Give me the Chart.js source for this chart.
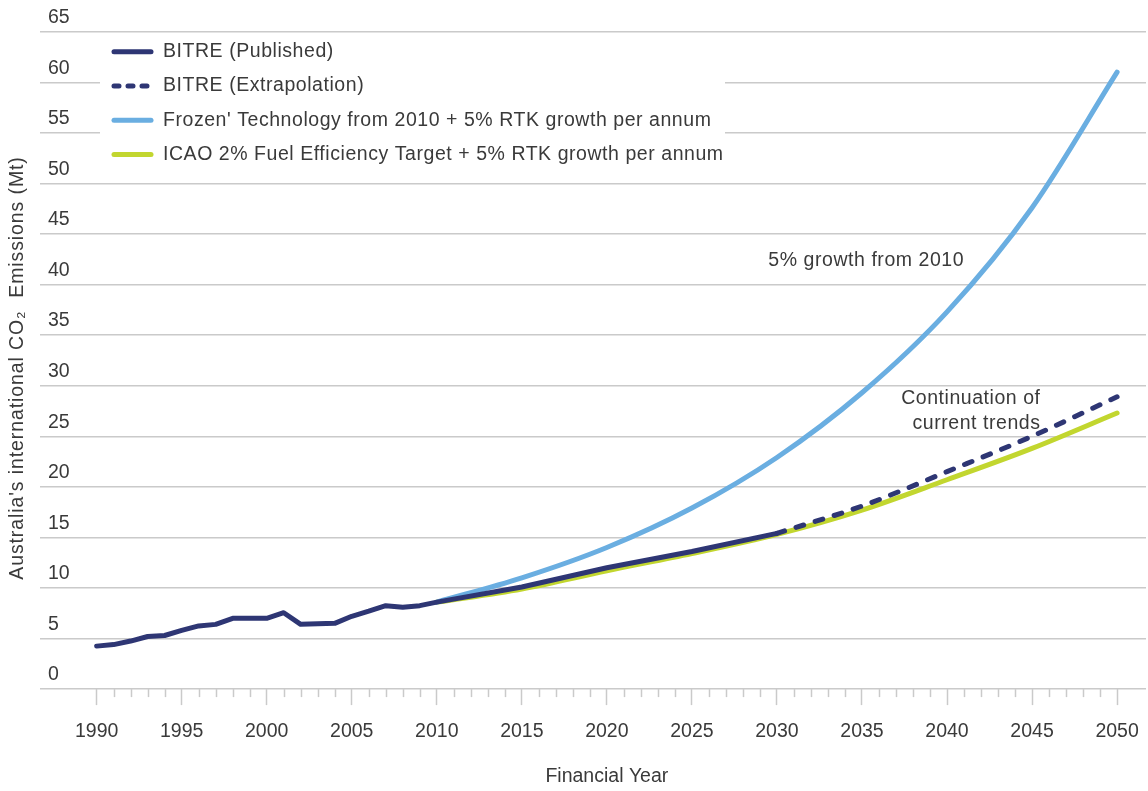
<!DOCTYPE html>
<html lang="en">
<head>
  <meta charset="UTF-8">
  <title>Australia's international CO2 emissions</title>
  <script src="https://cdn.jsdelivr.net/npm/chart.js"></script>
  <style>
    body {
      margin: 0;
      padding: 0;
      background: #fff;
    }

    #wrap {
      position: relative;
      width: 1148px;
      height: 791px;
    }
  </style>
</head>
<body>
  <div id="wrap">
    <canvas id="emissionsChart"></canvas>
  </div>

  <script>
    // Series (Mt CO2 by financial year)
    const publishedYears = [1990, 1991, 1992, 1993, 1994, 1995, 1996, 1997, 1998, 1999, 2000,
      2001, 2002, 2003, 2004, 2005, 2006, 2007, 2008, 2009, 2010, 2015, 2020, 2025, 2030];
    const publishedValues = [4.25, 4.4, 4.75, 5.2, 5.3, 5.8, 6.25, 6.4, 7.0, 7.0, 7.0,
      7.55, 6.4, 6.45, 6.5, 7.2, 7.7, 8.25, 8.1, 8.25, 8.6, 10.1, 12.0, 13.6, 15.4];

    const extrapYears = [2030, 2035, 2040, 2045, 2050];
    const extrapValues = [15.4, 18.1, 21.5, 25.0, 28.9];

    const projYears = [2010, 2015, 2020, 2025, 2030, 2035, 2040, 2045, 2050];
    const frozenValues = [8.6, 11.0, 14.0, 17.9, 22.9, 29.3, 37.3, 47.6, 61.0];
    const icaoValues = [8.6, 9.9, 11.7, 13.4, 15.3, 17.7, 20.7, 23.8, 27.3];

    const seriesLabels = [
      'BITRE (Published)',
      'BITRE (Extrapolation)',
      "Frozen' Technology from 2010 + 5% RTK growth per annum",
      'ICAO 2% Fuel Efficiency Target + 5% RTK growth per annum'
    ];

    const majorYears = [1990, 1995, 2000, 2005, 2010, 2015, 2020, 2025, 2030, 2035, 2040, 2045, 2050];
    const yTicks = [0, 5, 10, 15, 20, 25, 30, 35, 40, 45, 50, 55, 60, 65];

    const NAVY = '#2e3674';
    const SKY = '#6aaee1';
    const LIME = '#c2d62f';
    const GRID = '#cacaca';
    const TEXT = '#3a3a3a';
    const FONT = "'Liberation Sans', Arial, sans-serif";
    const FONT_SIZE = 19.5;

    const toPoints = (xs, ys) => xs.map((x, i) => ({ x: x, y: ys[i] }));

    // minor yearly ticks under the x axis
    const minorTicks = {
      id: 'minorTicks',
      afterDraw(chart) {
        const x = chart.scales.x;
        const ctx = chart.ctx;
        const top = chart.chartArea.bottom;
        ctx.save();
        ctx.strokeStyle = GRID;
        ctx.lineWidth = 1.5;
        for (let yr = majorYears[0]; yr <= majorYears[majorYears.length - 1]; yr++) {
          if (yr % 5 === 0) continue;
          const px = Math.round(x.getPixelForValue(yr)) + 0.5;
          ctx.beginPath();
          ctx.moveTo(px, top);
          ctx.lineTo(px, top + 8);
          ctx.stroke();
        }
        ctx.restore();
      }
    };

    // legend box sitting on top of the grid, the in-plot notes and axis titles
    const overlay = {
      id: 'overlay',
      afterDatasetsDraw(chart) {
        const ctx = chart.ctx;
        const x = chart.scales.x;
        const y = chart.scales.y;
        ctx.save();

        ctx.fillStyle = '#fff';
        ctx.fillRect(100, 40, 625, 130);

        ctx.font = FONT_SIZE + 'px ' + FONT;
        ctx.letterSpacing = '0.55px';
        ctx.textBaseline = 'middle';
        ctx.textAlign = 'left';
        chart.data.datasets.forEach((ds, i) => {
          const rowY = 51.7 + i * 34.3;
          ctx.strokeStyle = ds.borderColor;
          ctx.lineWidth = 5;
          ctx.lineCap = 'round';
          ctx.setLineDash(ds.borderDash && ds.borderDash.length ? [5, 9] : []);
          ctx.beginPath();
          ctx.moveTo(114, rowY);
          ctx.lineTo(151, rowY);
          ctx.stroke();
          ctx.setLineDash([]);
          ctx.fillStyle = TEXT;
          ctx.fillText(ds.label, 163, rowY);
        });

        ctx.fillStyle = TEXT;
        ctx.textAlign = 'center';
        ctx.fillText('5% growth from 2010', x.getPixelForValue(2035.25), y.getPixelForValue(42.4));
        ctx.textAlign = 'right';
        ctx.fillText('Continuation of', x.getPixelForValue(2045.5), y.getPixelForValue(28.7));
        ctx.fillText('current trends', x.getPixelForValue(2045.5), y.getPixelForValue(26.2));

        // y axis title
        ctx.save();
        ctx.translate(18, 368);
        ctx.rotate(-Math.PI / 2);
        ctx.textAlign = 'center';
        ctx.letterSpacing = '0.9px';
        ctx.fillText("Australia's international CO₂  Emissions (Mt)", 0, 0);
        ctx.restore();

        // x axis title, centred on the 1990-2050 span
        ctx.letterSpacing = '0px';
        ctx.textAlign = 'center';
        ctx.fillText('Financial Year', x.getPixelForValue(2020), 777);
        ctx.restore();
      }
    };

    const lineStyle = {
      pointRadius: 0,
      pointHoverRadius: 0,
      borderWidth: 5,
      borderCapStyle: 'round',
      borderJoinStyle: 'round',
      fill: false
    };

    new Chart(document.getElementById('emissionsChart'), {
      type: 'line',
      data: {
        datasets: [
          Object.assign({
            label: seriesLabels[0],
            data: toPoints(publishedYears, publishedValues),
            borderColor: NAVY,
            backgroundColor: NAVY,
            tension: 0
          }, lineStyle),
          Object.assign({
            label: seriesLabels[1],
            data: toPoints(extrapYears, extrapValues),
            borderColor: NAVY,
            backgroundColor: NAVY,
            borderDash: [8, 12],
            cubicInterpolationMode: 'monotone'
          }, lineStyle),
          Object.assign({
            label: seriesLabels[2],
            data: toPoints(projYears, frozenValues),
            borderColor: SKY,
            backgroundColor: SKY,
            cubicInterpolationMode: 'monotone'
          }, lineStyle),
          Object.assign({
            label: seriesLabels[3],
            data: toPoints(projYears, icaoValues),
            borderColor: LIME,
            backgroundColor: LIME,
            cubicInterpolationMode: 'monotone'
          }, lineStyle)
        ]
      },
      options: {
        responsive: true,
        maintainAspectRatio: false,
        animation: false,
        events: [],
        layout: {
          padding: { top: 31.7, right: 2, bottom: 33.5, left: 0 }
        },
        plugins: {
          legend: { display: false },
          tooltip: { enabled: false }
        },
        scales: {
          x: {
            type: 'linear',
            min: 1986.67,
            max: 2051.7,
            afterBuildTicks(scale) {
              scale.ticks = majorYears.map(v => ({ value: v }));
            },
            afterFit(scale) {
              scale.paddingLeft = 0;
              scale.paddingRight = 0;
            },
            ticks: {
              autoSkip: false,
              maxRotation: 0,
              padding: 14.5,
              color: TEXT,
              font: { family: FONT, size: FONT_SIZE },
              callback: v => String(v)
            },
            grid: {
              drawOnChartArea: false,
              drawTicks: true,
              tickLength: 16,
              tickColor: GRID,
              tickWidth: 1.5
            },
            border: { display: false }
          },
          y: {
            min: 0,
            max: 65,
            afterBuildTicks(scale) {
              scale.ticks = yTicks.map(v => ({ value: v }));
            },
            afterFit(scale) {
              scale.width = 40;
            },
            ticks: {
              mirror: true,
              padding: 8,
              labelOffset: -14,
              color: TEXT,
              font: { family: FONT, size: FONT_SIZE }
            },
            grid: {
              color: GRID,
              lineWidth: 1.5,
              drawTicks: false
            },
            border: { display: false }
          }
        }
      },
      plugins: [minorTicks, overlay]
    });
  </script>
</body>
</html>
